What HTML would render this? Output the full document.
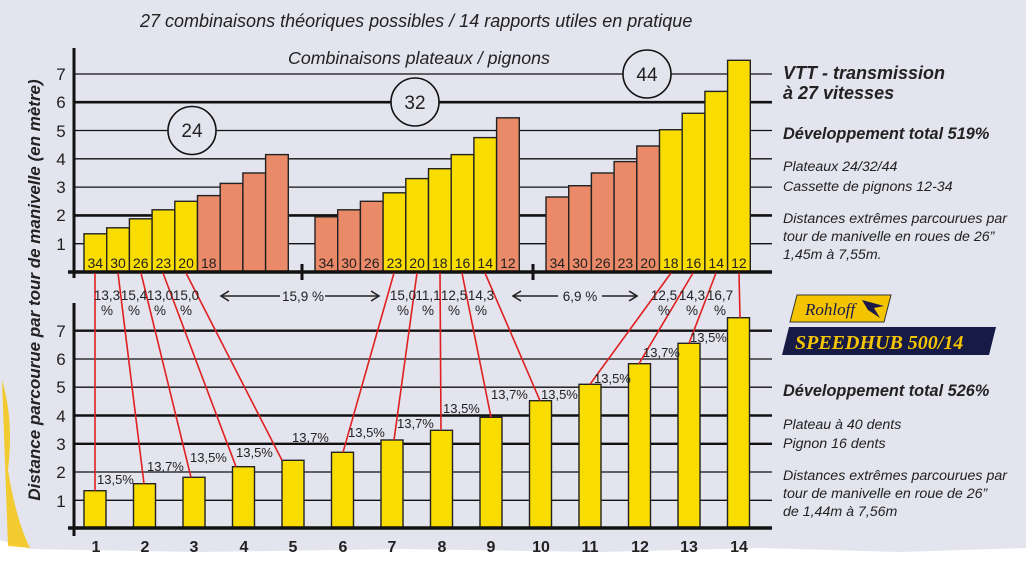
<!DOCTYPE html>
<html><head><meta charset="utf-8"><style>
html,body{margin:0;padding:0;background:#fff;}
svg{display:block;font-family:"Liberation Sans",sans-serif;}
</style></head><body>
<svg width="1032" height="561" viewBox="0 0 1032 561" xmlns="http://www.w3.org/2000/svg">
<path d="M0 0 H1026 V548 L900 552 L760 548 L600 552 L400 549 L200 552 L30 549 L0 540 Z" fill="#e3e4ee"/>
<path d="M2 380 Q14 420 8 470 Q16 520 30 548 L8 546 Z" fill="#f5c400" opacity="0.8"/>
<g fill="#222" font-style="italic">
<text x="140" y="27" font-size="18">27 combinaisons théoriques possibles / 14 rapports utiles en pratique</text>
<text x="288" y="64" font-size="17.8">Combinaisons plateaux / pignons</text>
</g>
<g stroke="#111">
<line x1="74" x2="772" y1="243.7" y2="243.7" stroke-width="1.3"/>
<line x1="74" x2="772" y1="215.4" y2="215.4" stroke-width="2.6"/>
<line x1="74" x2="772" y1="187.1" y2="187.1" stroke-width="1.3"/>
<line x1="74" x2="772" y1="158.8" y2="158.8" stroke-width="1.3"/>
<line x1="74" x2="772" y1="130.5" y2="130.5" stroke-width="1.3"/>
<line x1="74" x2="772" y1="102.2" y2="102.2" stroke-width="2.6"/>
<line x1="74" x2="772" y1="74" y2="74" stroke-width="1.3"/>
</g>
<g fill="#e3e4ee" stroke="#111" stroke-width="1.6">
<circle cx="192" cy="130.5" r="24"/><circle cx="415" cy="102" r="24"/><circle cx="647" cy="74" r="24"/>
</g>
<g font-size="19" fill="#222" text-anchor="middle">
<text x="192" y="137">24</text><text x="415" y="109">32</text><text x="647" y="81">44</text>
</g>
<g stroke="#222" stroke-width="1.4">
<rect x="84" y="233.8" width="22.7" height="38.2" fill="#f9dc00"/>
<rect x="106.7" y="227.8" width="22.7" height="44.2" fill="#f9dc00"/>
<rect x="129.4" y="218.8" width="22.7" height="53.2" fill="#f9dc00"/>
<rect x="152.1" y="209.8" width="22.7" height="62.2" fill="#f9dc00"/>
<rect x="174.8" y="201.3" width="22.7" height="70.7" fill="#f9dc00"/>
<rect x="197.5" y="195.6" width="22.7" height="76.4" fill="#ea8a68"/>
<rect x="220.2" y="183.4" width="22.7" height="88.6" fill="#ea8a68"/>
<rect x="242.9" y="173" width="22.7" height="99" fill="#ea8a68"/>
<rect x="265.6" y="154.6" width="22.7" height="117.4" fill="#ea8a68"/>
<rect x="315" y="216.8" width="22.7" height="55.2" fill="#ea8a68"/>
<rect x="337.7" y="209.8" width="22.7" height="62.2" fill="#ea8a68"/>
<rect x="360.4" y="201.3" width="22.7" height="70.7" fill="#ea8a68"/>
<rect x="383.1" y="192.8" width="22.7" height="79.2" fill="#f9dc00"/>
<rect x="405.8" y="178.6" width="22.7" height="93.4" fill="#f9dc00"/>
<rect x="428.5" y="168.7" width="22.7" height="103.3" fill="#f9dc00"/>
<rect x="451.2" y="154.6" width="22.7" height="117.4" fill="#f9dc00"/>
<rect x="473.9" y="137.6" width="22.7" height="134.4" fill="#f9dc00"/>
<rect x="496.6" y="117.8" width="22.7" height="154.2" fill="#ea8a68"/>
<rect x="546" y="197" width="22.7" height="75" fill="#ea8a68"/>
<rect x="568.7" y="185.7" width="22.7" height="86.3" fill="#ea8a68"/>
<rect x="591.4" y="173" width="22.7" height="99" fill="#ea8a68"/>
<rect x="614.1" y="161.6" width="22.7" height="110.4" fill="#ea8a68"/>
<rect x="636.8" y="146" width="22.7" height="126" fill="#ea8a68"/>
<rect x="659.5" y="129.7" width="22.7" height="142.3" fill="#f9dc00"/>
<rect x="682.2" y="113.3" width="22.7" height="158.7" fill="#f9dc00"/>
<rect x="704.9" y="91.4" width="22.7" height="180.6" fill="#f9dc00"/>
<rect x="727.6" y="60.3" width="22.7" height="211.7" fill="#f9dc00"/>
</g>
<g font-size="14" fill="#222" text-anchor="middle">
<text x="95.3" y="268">34</text><text x="118" y="268">30</text><text x="140.7" y="268">26</text><text x="163.4" y="268">23</text><text x="186.1" y="268">20</text><text x="208.8" y="268">18</text>
<text x="326.3" y="268">34</text><text x="349" y="268">30</text><text x="371.7" y="268">26</text><text x="394.4" y="268">23</text><text x="417.1" y="268">20</text><text x="439.8" y="268">18</text><text x="462.5" y="268">16</text><text x="485.2" y="268">14</text><text x="507.9" y="268">12</text>
<text x="557.3" y="268">34</text><text x="580" y="268">30</text><text x="602.7" y="268">26</text><text x="625.4" y="268">23</text><text x="648.1" y="268">20</text><text x="670.8" y="268">18</text><text x="693.5" y="268">16</text><text x="716.2" y="268">14</text><text x="738.9" y="268">12</text>
</g>
<g stroke="#111">
<line x1="68" x2="772" y1="272" y2="272" stroke-width="3.5"/>
<line x1="74" x2="74" y1="48" y2="278" stroke-width="3"/>
<line x1="302" x2="302" y1="264" y2="280" stroke-width="3"/>
<line x1="533" x2="533" y1="264" y2="280" stroke-width="3"/>
</g>
<g font-size="17" fill="#222" text-anchor="middle">
<text x="61" y="80">7</text><text x="61" y="108">6</text><text x="61" y="137">5</text><text x="61" y="165">4</text><text x="61" y="193">3</text><text x="61" y="221">2</text><text x="61" y="250">1</text>
<text x="61" y="337">7</text><text x="61" y="365">6</text><text x="61" y="393">5</text><text x="61" y="422">4</text><text x="61" y="450">3</text><text x="61" y="478">2</text><text x="61" y="507">1</text>
</g>
<text transform="translate(40,290) rotate(-90)" text-anchor="middle" font-size="17" font-weight="bold" font-style="italic" fill="#222">Distance parcourue par tour de manivelle (en mètre)</text>
<g stroke="#111">
<line x1="74" x2="772" y1="330.7" y2="330.7" stroke-width="2.4"/>
<line x1="74" x2="772" y1="359" y2="359" stroke-width="1.3"/>
<line x1="74" x2="772" y1="387.2" y2="387.2" stroke-width="1.3"/>
<line x1="74" x2="772" y1="415.5" y2="415.5" stroke-width="2.4"/>
<line x1="74" x2="772" y1="443.8" y2="443.8" stroke-width="2.4"/>
<line x1="74" x2="772" y1="472" y2="472" stroke-width="1.3"/>
<line x1="74" x2="772" y1="500.3" y2="500.3" stroke-width="1.3"/>
</g>
<g stroke="#222" stroke-width="1.4" fill="#f9dc00">
<rect x="84" y="490.7" width="22" height="37.3"/>
<rect x="133.5" y="483.7" width="22" height="44.3"/>
<rect x="183" y="477.3" width="22" height="50.7"/>
<rect x="232.5" y="466.7" width="22" height="61.3"/>
<rect x="282" y="460.3" width="22" height="67.7"/>
<rect x="331.5" y="452.3" width="22" height="75.7"/>
<rect x="381" y="440" width="22" height="88"/>
<rect x="430.5" y="430.3" width="22" height="97.7"/>
<rect x="480" y="417.3" width="22" height="110.7"/>
<rect x="529.5" y="400.7" width="22" height="127.3"/>
<rect x="579" y="384.3" width="22" height="143.7"/>
<rect x="628.5" y="363.7" width="22" height="164.3"/>
<rect x="678" y="343.3" width="22" height="184.7"/>
<rect x="727.5" y="317.7" width="22" height="210.3"/>
</g>
<g stroke="#111">
<line x1="68" x2="772" y1="528" y2="528" stroke-width="3.5"/>
<line x1="74" x2="74" y1="303" y2="536" stroke-width="3"/>
</g>
<g stroke="#e02020" stroke-width="1.6">
<line x1="95" y1="273" x2="95" y2="490.7"/>
<line x1="118" y1="273" x2="144" y2="483.7"/>
<line x1="141" y1="273" x2="191" y2="477.3"/>
<line x1="163" y1="273" x2="236" y2="466.7"/>
<line x1="186" y1="273" x2="282" y2="460.3"/>
<line x1="394" y1="273" x2="343" y2="452.3"/>
<line x1="417" y1="273" x2="394" y2="440"/>
<line x1="440" y1="273" x2="441" y2="430.3"/>
<line x1="462" y1="273" x2="491" y2="417.3"/>
<line x1="485" y1="273" x2="540" y2="400.7"/>
<line x1="671" y1="273" x2="590" y2="384.3"/>
<line x1="693" y1="273" x2="639" y2="363.7"/>
<line x1="716" y1="273" x2="689" y2="343.3"/>
<line x1="739" y1="273" x2="740" y2="317.7"/>
</g>
<g font-size="13.5" fill="#222" text-anchor="middle">
<text x="107" y="300">13,3</text><text x="107" y="315">%</text>
<text x="134" y="300">15,4</text><text x="134" y="315">%</text>
<text x="160" y="300">13,0</text><text x="160" y="315">%</text>
<text x="186" y="300">15,0</text><text x="186" y="315">%</text>
<text x="403" y="300">15,0</text><text x="403" y="315">%</text>
<text x="428" y="300">11,1</text><text x="428" y="315">%</text>
<text x="454" y="300">12,5</text><text x="454" y="315">%</text>
<text x="481" y="300">14,3</text><text x="481" y="315">%</text>
<text x="664" y="300">12,5</text><text x="664" y="315">%</text>
<text x="692" y="300">14,3</text><text x="692" y="315">%</text>
<text x="720" y="300">16,7</text><text x="720" y="315">%</text>
<text x="303" y="301">15,9 %</text>
<text x="580" y="301">6,9 %</text>
</g>
<g stroke="#222" stroke-width="1.6" fill="none">
<line x1="222" y1="296" x2="280" y2="296"/><line x1="325" y1="296" x2="378" y2="296"/>
<polyline points="229,291 221,296 229,301"/><polyline points="371,291 379,296 371,301"/>
<line x1="514" y1="296" x2="558" y2="296"/><line x1="602" y1="296" x2="636" y2="296"/>
<polyline points="521,291 513,296 521,301"/><polyline points="629,291 637,296 629,301"/>
</g>
<g font-size="13" fill="#222">
<text x="97" y="484">13,5%</text>
<text x="147" y="471">13,7%</text>
<text x="190" y="462">13,5%</text>
<text x="236" y="457">13,5%</text>
<text x="292" y="442">13,7%</text>
<text x="348" y="437">13,5%</text>
<text x="397" y="428">13,7%</text>
<text x="443" y="413">13,5%</text>
<text x="491" y="399">13,7%</text>
<text x="541" y="399">13,5%</text>
<text x="594" y="383">13,5%</text>
<text x="643" y="357">13,7%</text>
<text x="690" y="342">13,5%</text>
</g>
<g font-size="16" font-weight="bold" fill="#222" text-anchor="middle">
<text x="96" y="552">1</text><text x="145" y="552">2</text><text x="194" y="552">3</text><text x="244" y="552">4</text><text x="293" y="552">5</text><text x="343" y="552">6</text><text x="392" y="552">7</text><text x="442" y="552">8</text><text x="491" y="552">9</text><text x="541" y="552">10</text><text x="590" y="552">11</text><text x="640" y="552">12</text><text x="689" y="552">13</text><text x="739" y="552">14</text>
</g>
<g fill="#222" font-style="italic">
<text x="783" y="79" font-size="18" font-weight="bold">VTT - transmission</text>
<text x="783" y="99" font-size="18" font-weight="bold">à 27 vitesses</text>
<text x="783" y="139" font-size="16.3" font-weight="bold">Développement total 519%</text>
<text x="783" y="171" font-size="14.2">Plateaux 24/32/44</text>
<text x="783" y="191" font-size="14.2">Cassette de pignons 12-34</text>
<text x="783" y="223" font-size="14.2">Distances extrêmes parcourues par</text>
<text x="783" y="241" font-size="14.2">tour de manivelle en roues de 26”</text>
<text x="783" y="259" font-size="14.2">1,45m à 7,55m.</text>
<text x="783" y="396" font-size="16.3" font-weight="bold">Développement total 526%</text>
<text x="783" y="429" font-size="14.2">Plateau à 40 dents</text>
<text x="783" y="448" font-size="14.2">Pignon 16 dents</text>
<text x="783" y="480" font-size="14.2">Distances extrêmes parcourues par</text>
<text x="783" y="498" font-size="14.2">tour de manivelle en roue de 26”</text>
<text x="783" y="516" font-size="14.2">de 1,44m à 7,56m</text>
</g>
<polygon points="797,295 891,295 884,322 790,322" fill="#f5c400" stroke="#333" stroke-width="1"/>
<text x="805" y="315" font-family="Liberation Serif,serif" font-style="italic" font-size="17" fill="#1a1a4a">Rohloff</text>
<path d="M862 300 L884 306 L874 308 L880 318 L868 310 Z" fill="#1a1a4a"/>
<polygon points="789,327 996,327 989,355 782,355" fill="#161a44"/>
<text x="795" y="349" font-family="Liberation Serif,serif" font-style="italic" font-weight="bold" font-size="20" fill="#f5c400">SPEEDHUB 500/14</text>
</svg>
</body></html>
